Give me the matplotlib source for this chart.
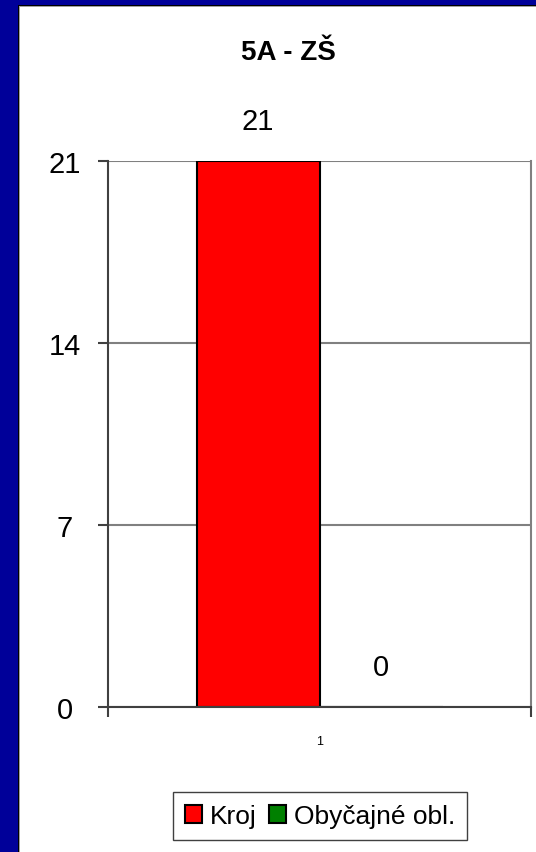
import matplotlib
matplotlib.use('Agg')
import matplotlib.pyplot as plt
from matplotlib.patches import Rectangle

plt.rcParams['font.family'] = ['Liberation Sans', 'DejaVu Sans']

title = '5A - ZŠ'
series_names = ['Kroj', 'Obyčajné obl.']
series_values = [21, 0]
series_colors = ['#FF0000', '#008000']
category_labels = ['1']
y_ticks = [0, 7, 14, 21]

W, H = 536, 853
fig = plt.figure(figsize=(W / 100, H / 100), dpi=100, facecolor='#000099')

# slide frame: blue surround, black + gray inner edges, white panel
fig.patches.append(Rectangle((18 / W, 0), 1, 1 - 6 / H, transform=fig.transFigure,
                             facecolor='black', edgecolor='none', zorder=-10))
fig.patches.append(Rectangle((19 / W, 0), 1, 1 - 7 / H, transform=fig.transFigure,
                             facecolor='#A0A0A0', edgecolor='none', zorder=-9))
fig.patches.append(Rectangle((20 / W, 0), 1, 1 - 8 / H, transform=fig.transFigure,
                             facecolor='white', edgecolor='none', zorder=-8))

ax = fig.add_axes([108 / W, 1 - 708 / H, 423 / W, 546 / H])
ax.patch.set_alpha(0)

bar_w = 123 / 423
offsets = [-bar_w / 2, bar_w / 2]
for name, val, col, off in zip(series_names, series_values, series_colors, offsets):
    ax.bar(0 + off, val, width=bar_w, color=col, edgecolor='black',
           linewidth=1.5, label=name, zorder=3)
    ax.annotate(str(val), (0 + off, val), xytext=(0, 29), textcoords='offset points',
                ha='center', va='center', fontsize=21)

ax.set_xlim(-0.5, 0.5)
ax.set_ylim(0, 21)
ax.set_yticks(y_ticks)
ax.set_yticklabels([str(t) for t in y_ticks], fontsize=21)
for lab in ax.get_yticklabels():
    lab.set_horizontalalignment('center')
ax.tick_params(axis='y', length=7, width=1.5, color='#404040', pad=24)

ax.set_xticks([-0.5, 0.5], minor=False)
ax.set_xticklabels(['', ''])
ax.set_xticks([0], minor=True)
ax.set_xticklabels(category_labels, minor=True, fontsize=9)
ax.tick_params(axis='x', which='major', length=7, width=1.5, color='#404040')
ax.tick_params(axis='x', which='minor', length=0, pad=20)

ax.yaxis.grid(True, color='#808080', linewidth=1.5, zorder=1)
ax.set_axisbelow(True)

for s in ['left', 'bottom']:
    ax.spines[s].set_color('#404040')
    ax.spines[s].set_linewidth(1.5)
    ax.spines[s].set_zorder(4)
ax.spines['right'].set_color('#808080')
ax.spines['right'].set_linewidth(1.5)
ax.spines['top'].set_visible(False)

fig.text(288 / W, 1 - 53 / H, title, ha='center', va='center',
         fontsize=20, fontweight='bold')

leg = ax.legend(loc='center', bbox_to_anchor=(320 / W, 1 - 817 / H),
                bbox_transform=fig.transFigure, ncol=2, fontsize=19,
                handlelength=0.65, handleheight=0.65, handletextpad=0.3,
                columnspacing=0.45, borderpad=0.45, fancybox=False,
                framealpha=1, edgecolor='#404040')
leg.get_frame().set_linewidth(1)

fig.savefig('out.png', dpi=100, facecolor=fig.get_facecolor())
